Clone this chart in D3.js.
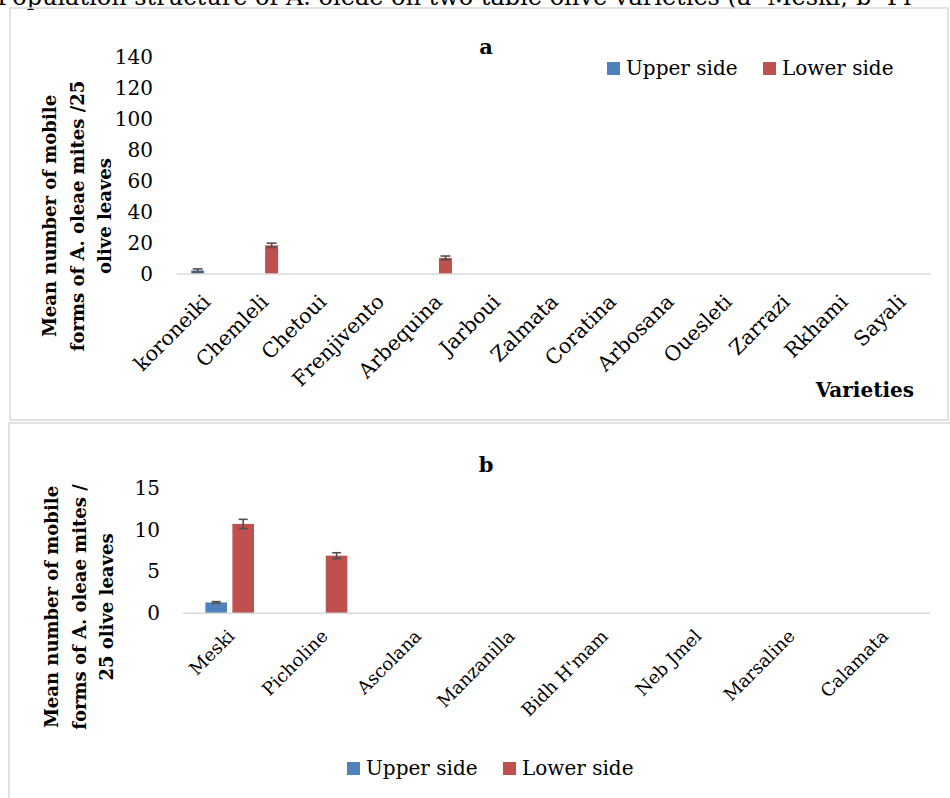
<!DOCTYPE html>
<html>
<head>
<meta charset="utf-8">
<script src="https://cdn.jsdelivr.net/npm/d3@7"></script>
<style>
  body { margin: 0; background: #fff; }
  svg text { font-family: "DejaVu Serif", serif; fill: #000; }
</style>
</head>
<body>
<svg id="chart" width="950" height="798"></svg>
<script>
// panel a data
var varietiesA = ["koroneiki", "Chemleli", "Chetoui", "Frenjivento", "Arbequina", "Jarboui",
  "Zalmata", "Coratina", "Arbosana", "Ouesleti", "Zarrazi", "Rkhami", "Sayali"];
var upperA = [2.3, 0, 0, 0, 0, 0, 0, 0, 0, 0, 0, 0, 0];
var upperErrA = [1.0, 0, 0, 0, 0, 0, 0, 0, 0, 0, 0, 0, 0];
var lowerA = [0, 18.5, 0, 0, 10.4, 0, 0, 0, 0, 0, 0, 0, 0];
var lowerErrA = [0, 1.4, 0, 0, 1.2, 0, 0, 0, 0, 0, 0, 0, 0];
var ticksA = [0, 20, 40, 60, 80, 100, 120, 140];

// panel b data
var varietiesB = ["Meski", "Picholine", "Ascolana", "Manzanilla", "Bidh H'mam", "Neb Jmel", "Marsaline", "Calamata"];
var upperB = [1.3, 0, 0, 0, 0, 0, 0, 0];
var upperErrB = [0.1, 0, 0, 0, 0, 0, 0, 0];
var lowerB = [10.7, 6.9, 0, 0, 0, 0, 0, 0];
var lowerErrB = [0.55, 0.35, 0, 0, 0, 0, 0, 0];
var ticksB = [0, 5, 10, 15];

var series = ["Upper side", "Lower side"];
var color = d3.scaleOrdinal().domain(series).range(["#4F81BD", "#C0504D"]);

var svg = d3.select("#chart");

// caption line above the figure, cropped at the top like the source
svg.append("text")
  .attr("x", -3).attr("y", 5)
  .style("font-size", "24px")
  .text("Population structure of A. oleae on two table olive varieties (a- Meski; b- Pi");

// panel frames
svg.append("rect").attr("x", 10).attr("y", 8).attr("width", 938).attr("height", 412)
  .attr("fill", "none").attr("stroke", "#d9d9d9").attr("stroke-width", 1.5);
svg.append("rect").attr("x", 9).attr("y", 423).attr("width", 945).attr("height", 380)
  .attr("fill", "none").attr("stroke", "#d9d9d9").attr("stroke-width", 1.5);

function drawPanel(o) {
  var g = svg.append("g");
  var rows = o.cats.map(function (c, i) {
    return { cat: c, vals: [
      { s: series[0], v: o.upper[i], e: o.upperErr[i] },
      { s: series[1], v: o.lower[i], e: o.lowerErr[i] }
    ] };
  });

  var x0 = d3.scaleBand().domain(o.cats).range([o.left, o.right]).padding(0);
  var x1 = d3.scaleBand().domain(series).range([0, x0.bandwidth()])
    .paddingInner(o.pi).paddingOuter(o.po);
  var y = d3.scaleLinear().domain([0, o.max]).range([o.bottom, o.top]);

  // y tick labels (no axis line)
  var yAxis = d3.axisLeft(y).tickValues(o.ticks).tickSize(0).tickPadding(0);
  var ya = g.append("g").attr("transform", "translate(" + o.yLabelX + ",0)").call(yAxis);
  ya.select(".domain").remove();
  ya.selectAll("text").style("font-family", "DejaVu Serif, serif")
    .style("font-size", o.tickSize + "px").attr("fill", "#000");

  // bars
  var grp = g.selectAll(".cat").data(rows).enter().append("g")
    .attr("transform", function (d) { return "translate(" + x0(d.cat) + ",0)"; });
  grp.selectAll("rect").data(function (d) { return d.vals; }).enter().append("rect")
    .attr("x", function (d) { return x1(d.s); })
    .attr("width", x1.bandwidth())
    .attr("y", function (d) { return y(d.v); })
    .attr("height", function (d) { return y(0) - y(d.v); })
    .attr("fill", function (d) { return color(d.s); });

  // error bars
  var eb = grp.selectAll(".err").data(function (d) { return d.vals.filter(function (v) { return v.v > 0; }); })
    .enter().append("g").attr("stroke", "#505050").attr("stroke-width", 1.6);
  eb.append("line")
    .attr("x1", function (d) { return x1(d.s) + x1.bandwidth() / 2; })
    .attr("x2", function (d) { return x1(d.s) + x1.bandwidth() / 2; })
    .attr("y1", function (d) { return y(d.v - d.e); })
    .attr("y2", function (d) { return y(d.v + d.e); });
  [-1, 1].forEach(function (sgn) {
    eb.append("line")
      .attr("x1", function (d) { return x1(d.s) + x1.bandwidth() / 2 - o.cap; })
      .attr("x2", function (d) { return x1(d.s) + x1.bandwidth() / 2 + o.cap; })
      .attr("y1", function (d) { return y(d.v + sgn * d.e); })
      .attr("y2", function (d) { return y(d.v + sgn * d.e); });
  });

  // x axis line
  g.append("line").attr("x1", o.left).attr("x2", o.right)
    .attr("y1", y(0)).attr("y2", y(0))
    .attr("stroke", "#d9d9d9").attr("stroke-width", 1.5);

  // rotated category labels
  g.selectAll(".lab").data(o.cats).enter().append("text")
    .attr("text-anchor", "end")
    .attr("transform", function (d) {
      return "translate(" + (x0(d) + x0.bandwidth() / 2 + o.labDx) + "," + (y(0) + o.labDy) + ") rotate(-45)";
    })
    .style("font-size", o.labSize + "px")
    .text(function (d) { return d; });

  // y axis title
  var t = g.append("text")
    .attr("transform", "translate(" + o.titleX + "," + o.titleY + ") rotate(-90)")
    .attr("text-anchor", "middle")
    .style("font-size", "18px").style("font-weight", "bold");
  o.yTitle.forEach(function (line, i) {
    t.append("tspan").attr("x", 0).attr("dy", i === 0 ? 0 : 27.5).text(line);
  });

  // panel letter
  g.append("text").attr("x", o.letterX).attr("y", o.letterY)
    .attr("text-anchor", "middle")
    .style("font-size", "21px").style("font-weight", "bold").text(o.letter);

  // legend
  var lg = g.append("g").attr("transform", "translate(" + o.legX + "," + o.legY + ")");
  var items = lg.selectAll("g").data(series).enter().append("g")
    .attr("transform", function (d, i) { return "translate(" + (i * 156) + ",0)"; });
  items.append("rect").attr("x", 0).attr("y", -6).attr("width", 13).attr("height", 13)
    .attr("fill", function (d) { return color(d); });
  items.append("text").attr("x", 19).attr("y", 7)
    .style("font-size", "20px").text(function (d) { return d; });
}

drawPanel({
  cats: varietiesA, upper: upperA, upperErr: upperErrA, lower: lowerA, lowerErr: lowerErrA,
  ticks: ticksA, max: 140, left: 176.7, right: 930, top: 57, bottom: 274,
  pi: 0.1875, po: 0.906, cap: 5, yLabelX: 153, tickSize: 20,
  labDx: 6, labDy: 29, labSize: 20.5,
  yTitle: ["Mean number of mobile", "forms of A. oleae mites /25", "olive leaves"],
  titleX: 56, titleY: 216, letter: "a", letterX: 486, letterY: 54,
  legX: 607, legY: 68
});

drawPanel({
  cats: varietiesB, upper: upperB, upperErr: upperErrB, lower: lowerB, lowerErr: lowerErrB,
  ticks: ticksB, max: 15, left: 183, right: 930, top: 488, bottom: 613.3,
  pi: 0.2, po: 0.83, cap: 4.5, yLabelX: 160, tickSize: 20,
  labDx: 6, labDy: 24, labSize: 18,
  yTitle: ["Mean number of mobile", "forms of A. oleae mites /", "25 olive leaves"],
  titleX: 58, titleY: 607, letter: "b", letterX: 486, letterY: 472,
  legX: 347, legY: 768
});

// x axis title for panel a
svg.append("text").attr("x", 914).attr("y", 397).attr("text-anchor", "end")
  .style("font-size", "20px").style("font-weight", "bold").text("Varieties");
</script>
</body>
</html>
